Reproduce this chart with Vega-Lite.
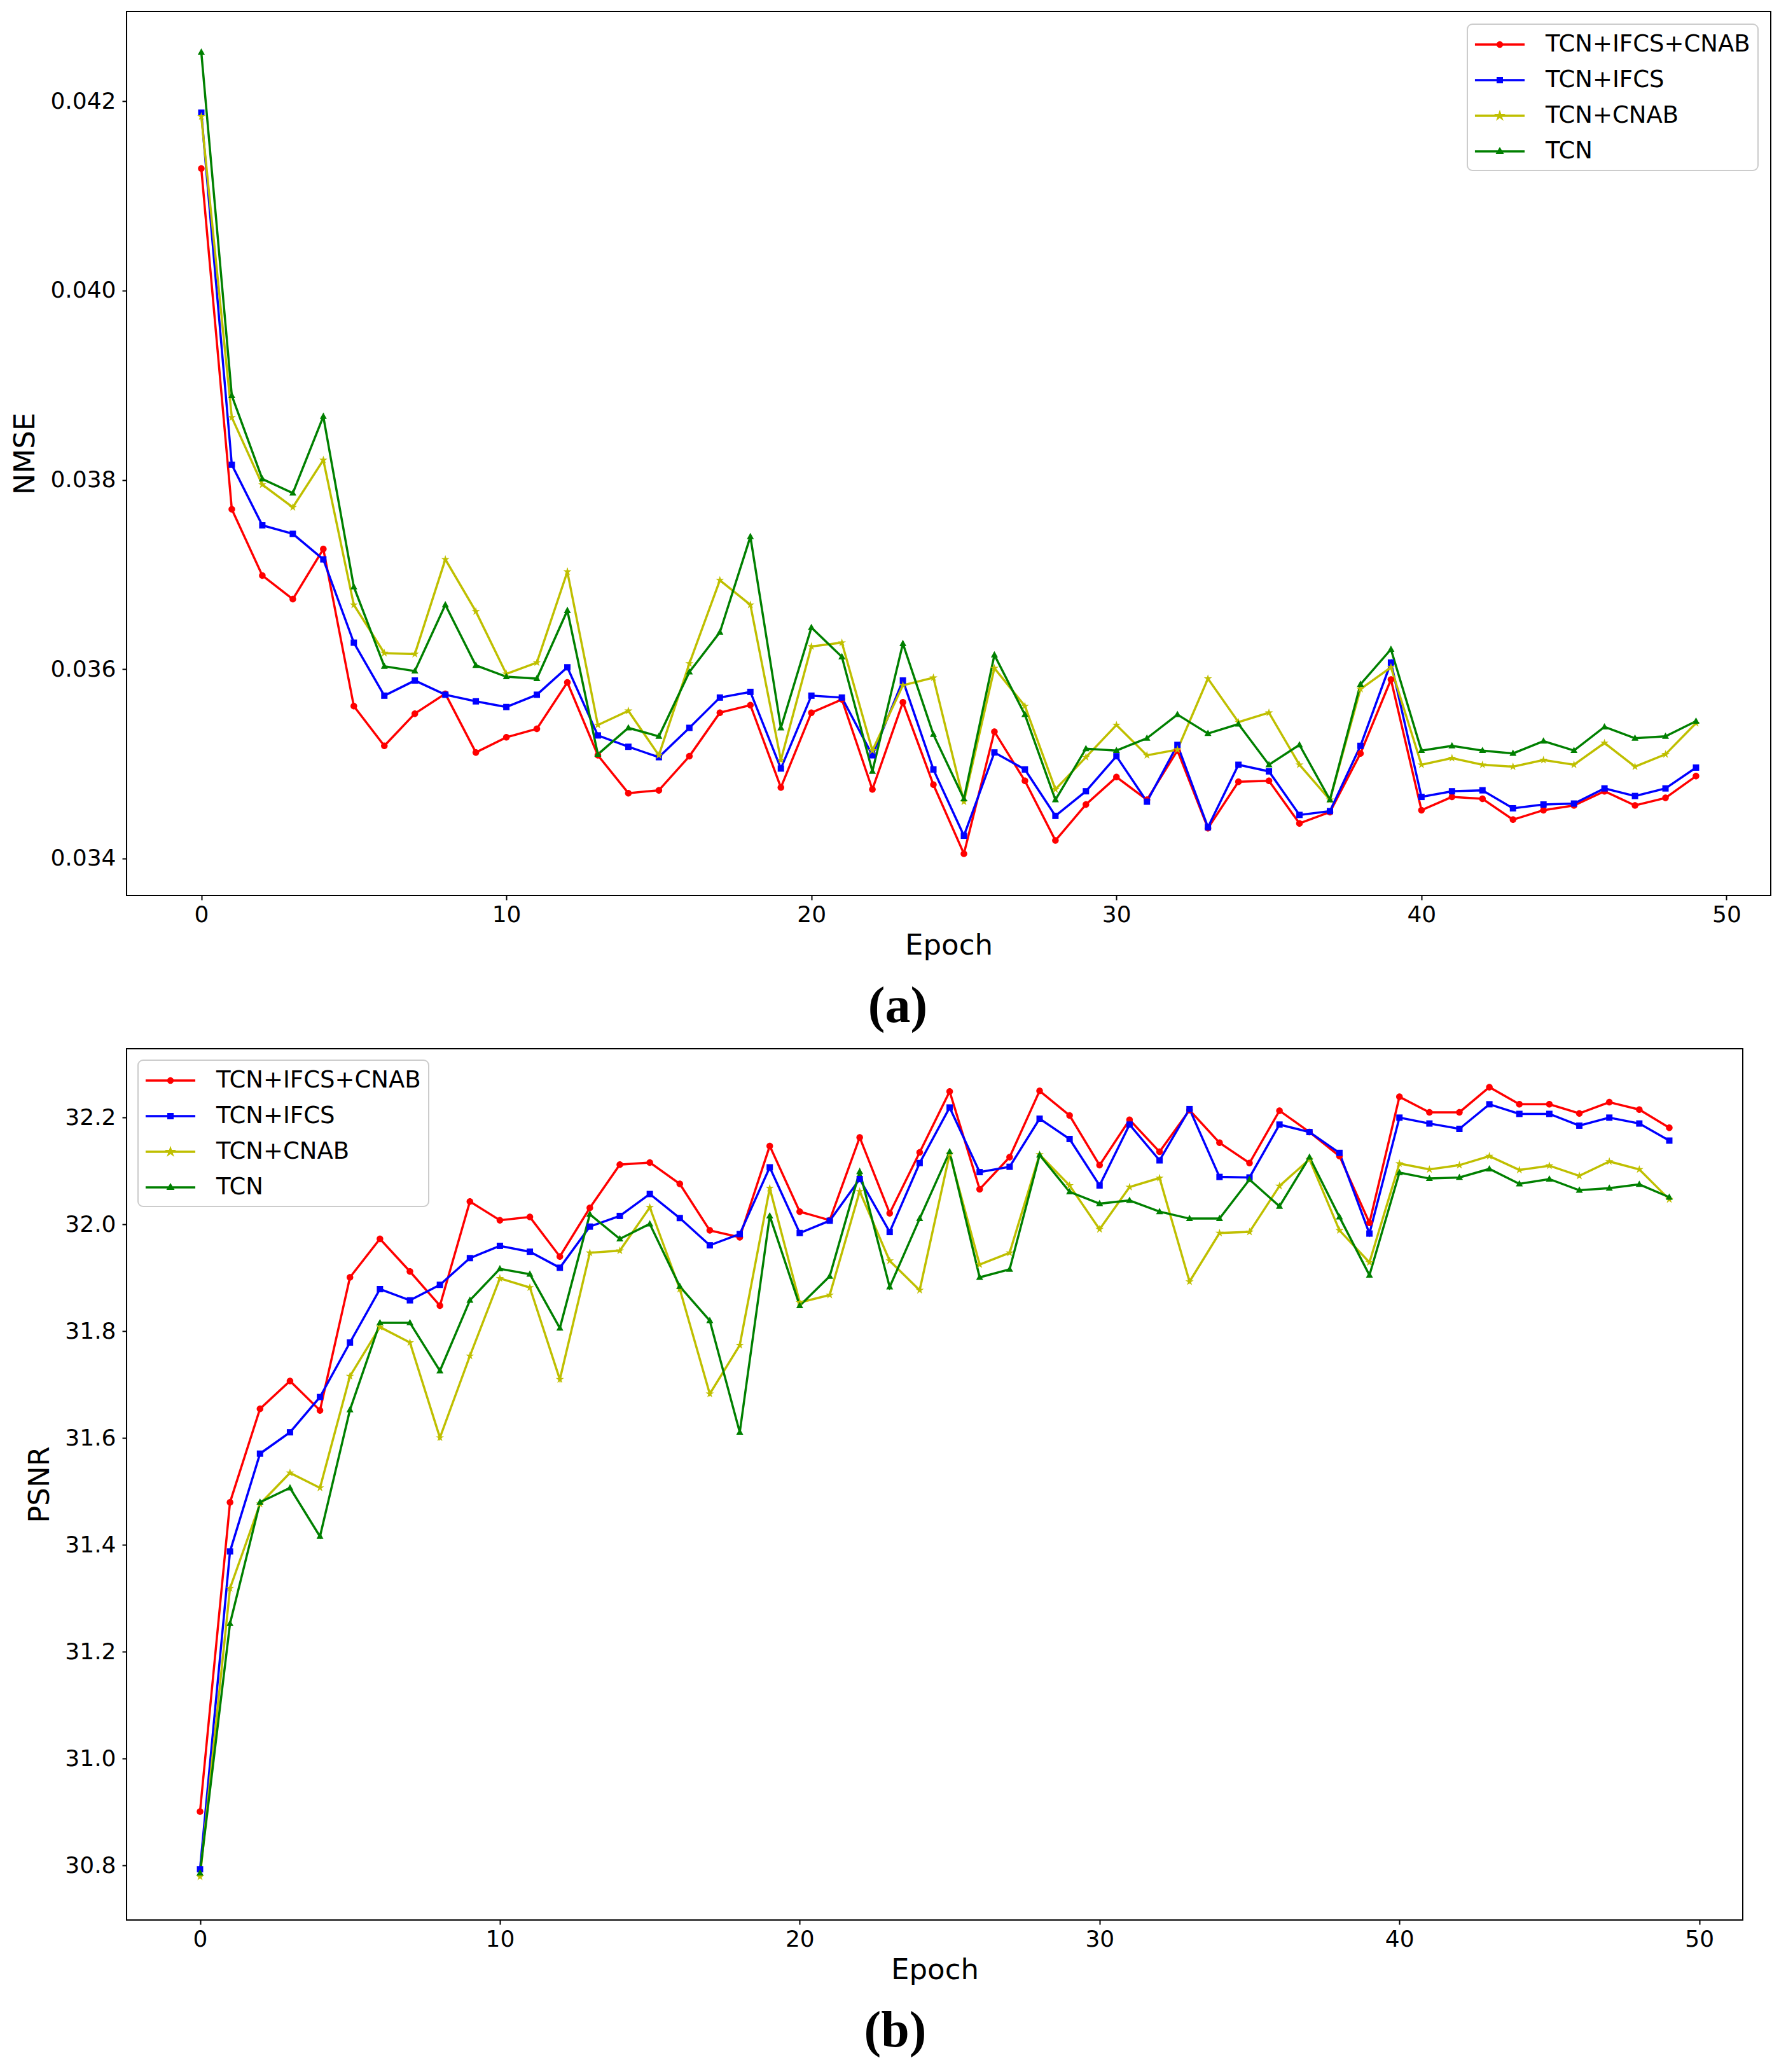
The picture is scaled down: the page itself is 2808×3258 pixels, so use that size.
{
  "$schema": "https://vega.github.io/schema/vega-lite/v6.json",
  "background": "white",
  "padding": {"left": 16, "top": 17, "right": 10, "bottom": 10},
  "spacing": 24,
  "config": {
    "view": {"stroke": "black", "strokeWidth": 2},
    "axis": {
      "domain": false,
      "grid": false,
      "tickColor": "black",
      "tickWidth": 2,
      "tickSize": 7,
      "labelFont": "DejaVu Sans",
      "labelFontSize": 36,
      "labelColor": "black",
      "titleFont": "DejaVu Sans",
      "titleFontSize": 45,
      "titleFontWeight": "normal",
      "titleColor": "black"
    },
    "legend": {
      "title": null,
      "labelFont": "DejaVu Sans",
      "labelFontSize": 37,
      "labelColor": "black",
      "labelLimit": 1000,
      "symbolSize": 1296,
      "symbolStrokeWidth": 3.5,
      "symbolStrokeColor": "#000000",
      "symbolOffset": 19,
      "labelOffset": 52,
      "rowPadding": 18,
      "padding": 12,
      "offset": 20,
      "strokeColor": "#cccccc",
      "strokeWidth": 2,
      "fillColor": "white",
      "cornerRadius": 8
    },
    "title": {
      "orient": "bottom",
      "anchor": "middle",
      "font": "Liberation Serif",
      "fontSize": 80,
      "fontWeight": "bold",
      "color": "black",
      "offset": 35
    }
  },
  "resolve": {"scale": {"color": "independent", "shape": "independent"}},
  "datasets": {
    "runs": [
      {"Epoch": 0, "Model": "TCN+IFCS+CNAB", "NMSE": 0.04129, "PSNR": 30.901},
      {"Epoch": 1, "Model": "TCN+IFCS+CNAB", "NMSE": 0.03769, "PSNR": 31.48},
      {"Epoch": 2, "Model": "TCN+IFCS+CNAB", "NMSE": 0.03699, "PSNR": 31.655},
      {"Epoch": 3, "Model": "TCN+IFCS+CNAB", "NMSE": 0.03674, "PSNR": 31.707},
      {"Epoch": 4, "Model": "TCN+IFCS+CNAB", "NMSE": 0.03727, "PSNR": 31.652},
      {"Epoch": 5, "Model": "TCN+IFCS+CNAB", "NMSE": 0.03561, "PSNR": 31.901},
      {"Epoch": 6, "Model": "TCN+IFCS+CNAB", "NMSE": 0.03519, "PSNR": 31.973},
      {"Epoch": 7, "Model": "TCN+IFCS+CNAB", "NMSE": 0.03553, "PSNR": 31.912},
      {"Epoch": 8, "Model": "TCN+IFCS+CNAB", "NMSE": 0.03574, "PSNR": 31.848},
      {"Epoch": 9, "Model": "TCN+IFCS+CNAB", "NMSE": 0.03512, "PSNR": 32.043},
      {"Epoch": 10, "Model": "TCN+IFCS+CNAB", "NMSE": 0.03528, "PSNR": 32.008},
      {"Epoch": 11, "Model": "TCN+IFCS+CNAB", "NMSE": 0.03537, "PSNR": 32.014},
      {"Epoch": 12, "Model": "TCN+IFCS+CNAB", "NMSE": 0.03586, "PSNR": 31.94},
      {"Epoch": 13, "Model": "TCN+IFCS+CNAB", "NMSE": 0.03509, "PSNR": 32.031},
      {"Epoch": 14, "Model": "TCN+IFCS+CNAB", "NMSE": 0.03469, "PSNR": 32.112},
      {"Epoch": 15, "Model": "TCN+IFCS+CNAB", "NMSE": 0.03472, "PSNR": 32.116},
      {"Epoch": 16, "Model": "TCN+IFCS+CNAB", "NMSE": 0.03508, "PSNR": 32.076},
      {"Epoch": 17, "Model": "TCN+IFCS+CNAB", "NMSE": 0.03554, "PSNR": 31.989},
      {"Epoch": 18, "Model": "TCN+IFCS+CNAB", "NMSE": 0.03562, "PSNR": 31.976},
      {"Epoch": 19, "Model": "TCN+IFCS+CNAB", "NMSE": 0.03475, "PSNR": 32.147},
      {"Epoch": 20, "Model": "TCN+IFCS+CNAB", "NMSE": 0.03554, "PSNR": 32.024},
      {"Epoch": 21, "Model": "TCN+IFCS+CNAB", "NMSE": 0.03568, "PSNR": 32.008},
      {"Epoch": 22, "Model": "TCN+IFCS+CNAB", "NMSE": 0.03473, "PSNR": 32.163},
      {"Epoch": 23, "Model": "TCN+IFCS+CNAB", "NMSE": 0.03565, "PSNR": 32.021},
      {"Epoch": 24, "Model": "TCN+IFCS+CNAB", "NMSE": 0.03478, "PSNR": 32.135},
      {"Epoch": 25, "Model": "TCN+IFCS+CNAB", "NMSE": 0.03405, "PSNR": 32.249},
      {"Epoch": 26, "Model": "TCN+IFCS+CNAB", "NMSE": 0.03534, "PSNR": 32.066},
      {"Epoch": 27, "Model": "TCN+IFCS+CNAB", "NMSE": 0.03482, "PSNR": 32.126},
      {"Epoch": 28, "Model": "TCN+IFCS+CNAB", "NMSE": 0.03419, "PSNR": 32.25},
      {"Epoch": 29, "Model": "TCN+IFCS+CNAB", "NMSE": 0.03457, "PSNR": 32.204},
      {"Epoch": 30, "Model": "TCN+IFCS+CNAB", "NMSE": 0.03486, "PSNR": 32.111},
      {"Epoch": 31, "Model": "TCN+IFCS+CNAB", "NMSE": 0.03462, "PSNR": 32.196},
      {"Epoch": 32, "Model": "TCN+IFCS+CNAB", "NMSE": 0.03514, "PSNR": 32.136},
      {"Epoch": 33, "Model": "TCN+IFCS+CNAB", "NMSE": 0.03432, "PSNR": 32.214},
      {"Epoch": 34, "Model": "TCN+IFCS+CNAB", "NMSE": 0.03481, "PSNR": 32.153},
      {"Epoch": 35, "Model": "TCN+IFCS+CNAB", "NMSE": 0.03482, "PSNR": 32.115},
      {"Epoch": 36, "Model": "TCN+IFCS+CNAB", "NMSE": 0.03437, "PSNR": 32.213},
      {"Epoch": 37, "Model": "TCN+IFCS+CNAB", "NMSE": 0.03449, "PSNR": 32.173},
      {"Epoch": 38, "Model": "TCN+IFCS+CNAB", "NMSE": 0.03511, "PSNR": 32.128},
      {"Epoch": 39, "Model": "TCN+IFCS+CNAB", "NMSE": 0.03589, "PSNR": 32.003},
      {"Epoch": 40, "Model": "TCN+IFCS+CNAB", "NMSE": 0.03451, "PSNR": 32.239},
      {"Epoch": 41, "Model": "TCN+IFCS+CNAB", "NMSE": 0.03465, "PSNR": 32.21},
      {"Epoch": 42, "Model": "TCN+IFCS+CNAB", "NMSE": 0.03463, "PSNR": 32.21},
      {"Epoch": 43, "Model": "TCN+IFCS+CNAB", "NMSE": 0.03441, "PSNR": 32.257},
      {"Epoch": 44, "Model": "TCN+IFCS+CNAB", "NMSE": 0.03451, "PSNR": 32.225},
      {"Epoch": 45, "Model": "TCN+IFCS+CNAB", "NMSE": 0.03456, "PSNR": 32.225},
      {"Epoch": 46, "Model": "TCN+IFCS+CNAB", "NMSE": 0.03471, "PSNR": 32.208},
      {"Epoch": 47, "Model": "TCN+IFCS+CNAB", "NMSE": 0.03456, "PSNR": 32.229},
      {"Epoch": 48, "Model": "TCN+IFCS+CNAB", "NMSE": 0.03464, "PSNR": 32.215},
      {"Epoch": 49, "Model": "TCN+IFCS+CNAB", "NMSE": 0.03487, "PSNR": 32.181},
      {"Epoch": 0, "Model": "TCN+IFCS", "NMSE": 0.04188, "PSNR": 30.793},
      {"Epoch": 1, "Model": "TCN+IFCS", "NMSE": 0.03816, "PSNR": 31.388},
      {"Epoch": 2, "Model": "TCN+IFCS", "NMSE": 0.03752, "PSNR": 31.571},
      {"Epoch": 3, "Model": "TCN+IFCS", "NMSE": 0.03743, "PSNR": 31.611},
      {"Epoch": 4, "Model": "TCN+IFCS", "NMSE": 0.03716, "PSNR": 31.677},
      {"Epoch": 5, "Model": "TCN+IFCS", "NMSE": 0.03628, "PSNR": 31.779},
      {"Epoch": 6, "Model": "TCN+IFCS", "NMSE": 0.03572, "PSNR": 31.879},
      {"Epoch": 7, "Model": "TCN+IFCS", "NMSE": 0.03588, "PSNR": 31.858},
      {"Epoch": 8, "Model": "TCN+IFCS", "NMSE": 0.03573, "PSNR": 31.887},
      {"Epoch": 9, "Model": "TCN+IFCS", "NMSE": 0.03566, "PSNR": 31.937},
      {"Epoch": 10, "Model": "TCN+IFCS", "NMSE": 0.0356, "PSNR": 31.96},
      {"Epoch": 11, "Model": "TCN+IFCS", "NMSE": 0.03573, "PSNR": 31.949},
      {"Epoch": 12, "Model": "TCN+IFCS", "NMSE": 0.03602, "PSNR": 31.919},
      {"Epoch": 13, "Model": "TCN+IFCS", "NMSE": 0.0353, "PSNR": 31.996},
      {"Epoch": 14, "Model": "TCN+IFCS", "NMSE": 0.03518, "PSNR": 32.016},
      {"Epoch": 15, "Model": "TCN+IFCS", "NMSE": 0.03507, "PSNR": 32.057},
      {"Epoch": 16, "Model": "TCN+IFCS", "NMSE": 0.03538, "PSNR": 32.012},
      {"Epoch": 17, "Model": "TCN+IFCS", "NMSE": 0.0357, "PSNR": 31.961},
      {"Epoch": 18, "Model": "TCN+IFCS", "NMSE": 0.03576, "PSNR": 31.982},
      {"Epoch": 19, "Model": "TCN+IFCS", "NMSE": 0.03495, "PSNR": 32.107},
      {"Epoch": 20, "Model": "TCN+IFCS", "NMSE": 0.03572, "PSNR": 31.984},
      {"Epoch": 21, "Model": "TCN+IFCS", "NMSE": 0.0357, "PSNR": 32.007},
      {"Epoch": 22, "Model": "TCN+IFCS", "NMSE": 0.03509, "PSNR": 32.085},
      {"Epoch": 23, "Model": "TCN+IFCS", "NMSE": 0.03588, "PSNR": 31.986},
      {"Epoch": 24, "Model": "TCN+IFCS", "NMSE": 0.03494, "PSNR": 32.115},
      {"Epoch": 25, "Model": "TCN+IFCS", "NMSE": 0.03424, "PSNR": 32.219},
      {"Epoch": 26, "Model": "TCN+IFCS", "NMSE": 0.03512, "PSNR": 32.098},
      {"Epoch": 27, "Model": "TCN+IFCS", "NMSE": 0.03494, "PSNR": 32.108},
      {"Epoch": 28, "Model": "TCN+IFCS", "NMSE": 0.03445, "PSNR": 32.198},
      {"Epoch": 29, "Model": "TCN+IFCS", "NMSE": 0.03471, "PSNR": 32.16},
      {"Epoch": 30, "Model": "TCN+IFCS", "NMSE": 0.03508, "PSNR": 32.073},
      {"Epoch": 31, "Model": "TCN+IFCS", "NMSE": 0.0346, "PSNR": 32.187},
      {"Epoch": 32, "Model": "TCN+IFCS", "NMSE": 0.0352, "PSNR": 32.12},
      {"Epoch": 33, "Model": "TCN+IFCS", "NMSE": 0.03433, "PSNR": 32.216},
      {"Epoch": 34, "Model": "TCN+IFCS", "NMSE": 0.03499, "PSNR": 32.089},
      {"Epoch": 35, "Model": "TCN+IFCS", "NMSE": 0.03492, "PSNR": 32.088},
      {"Epoch": 36, "Model": "TCN+IFCS", "NMSE": 0.03446, "PSNR": 32.187},
      {"Epoch": 37, "Model": "TCN+IFCS", "NMSE": 0.0345, "PSNR": 32.173},
      {"Epoch": 38, "Model": "TCN+IFCS", "NMSE": 0.03519, "PSNR": 32.134},
      {"Epoch": 39, "Model": "TCN+IFCS", "NMSE": 0.03607, "PSNR": 31.983},
      {"Epoch": 40, "Model": "TCN+IFCS", "NMSE": 0.03465, "PSNR": 32.2},
      {"Epoch": 41, "Model": "TCN+IFCS", "NMSE": 0.03471, "PSNR": 32.189},
      {"Epoch": 42, "Model": "TCN+IFCS", "NMSE": 0.03472, "PSNR": 32.179},
      {"Epoch": 43, "Model": "TCN+IFCS", "NMSE": 0.03453, "PSNR": 32.225},
      {"Epoch": 44, "Model": "TCN+IFCS", "NMSE": 0.03457, "PSNR": 32.207},
      {"Epoch": 45, "Model": "TCN+IFCS", "NMSE": 0.03458, "PSNR": 32.207},
      {"Epoch": 46, "Model": "TCN+IFCS", "NMSE": 0.03474, "PSNR": 32.185},
      {"Epoch": 47, "Model": "TCN+IFCS", "NMSE": 0.03466, "PSNR": 32.2},
      {"Epoch": 48, "Model": "TCN+IFCS", "NMSE": 0.03474, "PSNR": 32.189},
      {"Epoch": 49, "Model": "TCN+IFCS", "NMSE": 0.03496, "PSNR": 32.157},
      {"Epoch": 0, "Model": "TCN+CNAB", "NMSE": 0.04184, "PSNR": 30.779},
      {"Epoch": 1, "Model": "TCN+CNAB", "NMSE": 0.03866, "PSNR": 31.319},
      {"Epoch": 2, "Model": "TCN+CNAB", "NMSE": 0.03795, "PSNR": 31.477},
      {"Epoch": 3, "Model": "TCN+CNAB", "NMSE": 0.03771, "PSNR": 31.535},
      {"Epoch": 4, "Model": "TCN+CNAB", "NMSE": 0.03821, "PSNR": 31.507},
      {"Epoch": 5, "Model": "TCN+CNAB", "NMSE": 0.03668, "PSNR": 31.716},
      {"Epoch": 6, "Model": "TCN+CNAB", "NMSE": 0.03617, "PSNR": 31.808},
      {"Epoch": 7, "Model": "TCN+CNAB", "NMSE": 0.03616, "PSNR": 31.779},
      {"Epoch": 8, "Model": "TCN+CNAB", "NMSE": 0.03716, "PSNR": 31.601},
      {"Epoch": 9, "Model": "TCN+CNAB", "NMSE": 0.03661, "PSNR": 31.754},
      {"Epoch": 10, "Model": "TCN+CNAB", "NMSE": 0.03595, "PSNR": 31.899},
      {"Epoch": 11, "Model": "TCN+CNAB", "NMSE": 0.03607, "PSNR": 31.882},
      {"Epoch": 12, "Model": "TCN+CNAB", "NMSE": 0.03703, "PSNR": 31.71},
      {"Epoch": 13, "Model": "TCN+CNAB", "NMSE": 0.03541, "PSNR": 31.947},
      {"Epoch": 14, "Model": "TCN+CNAB", "NMSE": 0.03556, "PSNR": 31.951},
      {"Epoch": 15, "Model": "TCN+CNAB", "NMSE": 0.03509, "PSNR": 32.032},
      {"Epoch": 16, "Model": "TCN+CNAB", "NMSE": 0.03606, "PSNR": 31.879},
      {"Epoch": 17, "Model": "TCN+CNAB", "NMSE": 0.03694, "PSNR": 31.683},
      {"Epoch": 18, "Model": "TCN+CNAB", "NMSE": 0.03668, "PSNR": 31.774},
      {"Epoch": 19, "Model": "TCN+CNAB", "NMSE": 0.03504, "PSNR": 32.068},
      {"Epoch": 20, "Model": "TCN+CNAB", "NMSE": 0.03624, "PSNR": 31.854},
      {"Epoch": 21, "Model": "TCN+CNAB", "NMSE": 0.03628, "PSNR": 31.868},
      {"Epoch": 22, "Model": "TCN+CNAB", "NMSE": 0.03514, "PSNR": 32.062},
      {"Epoch": 23, "Model": "TCN+CNAB", "NMSE": 0.03583, "PSNR": 31.932},
      {"Epoch": 24, "Model": "TCN+CNAB", "NMSE": 0.03591, "PSNR": 31.877},
      {"Epoch": 25, "Model": "TCN+CNAB", "NMSE": 0.0346, "PSNR": 32.132},
      {"Epoch": 26, "Model": "TCN+CNAB", "NMSE": 0.03601, "PSNR": 31.925},
      {"Epoch": 27, "Model": "TCN+CNAB", "NMSE": 0.03561, "PSNR": 31.947},
      {"Epoch": 28, "Model": "TCN+CNAB", "NMSE": 0.03473, "PSNR": 32.131},
      {"Epoch": 29, "Model": "TCN+CNAB", "NMSE": 0.03507, "PSNR": 32.073},
      {"Epoch": 30, "Model": "TCN+CNAB", "NMSE": 0.03541, "PSNR": 31.991},
      {"Epoch": 31, "Model": "TCN+CNAB", "NMSE": 0.03509, "PSNR": 32.07},
      {"Epoch": 32, "Model": "TCN+CNAB", "NMSE": 0.03515, "PSNR": 32.087},
      {"Epoch": 33, "Model": "TCN+CNAB", "NMSE": 0.0359, "PSNR": 31.893},
      {"Epoch": 34, "Model": "TCN+CNAB", "NMSE": 0.03544, "PSNR": 31.984},
      {"Epoch": 35, "Model": "TCN+CNAB", "NMSE": 0.03554, "PSNR": 31.986},
      {"Epoch": 36, "Model": "TCN+CNAB", "NMSE": 0.03499, "PSNR": 32.072},
      {"Epoch": 37, "Model": "TCN+CNAB", "NMSE": 0.03462, "PSNR": 32.122},
      {"Epoch": 38, "Model": "TCN+CNAB", "NMSE": 0.03579, "PSNR": 31.989},
      {"Epoch": 39, "Model": "TCN+CNAB", "NMSE": 0.03602, "PSNR": 31.929},
      {"Epoch": 40, "Model": "TCN+CNAB", "NMSE": 0.03499, "PSNR": 32.114},
      {"Epoch": 41, "Model": "TCN+CNAB", "NMSE": 0.03506, "PSNR": 32.103},
      {"Epoch": 42, "Model": "TCN+CNAB", "NMSE": 0.03499, "PSNR": 32.111},
      {"Epoch": 43, "Model": "TCN+CNAB", "NMSE": 0.03497, "PSNR": 32.128},
      {"Epoch": 44, "Model": "TCN+CNAB", "NMSE": 0.03504, "PSNR": 32.102},
      {"Epoch": 45, "Model": "TCN+CNAB", "NMSE": 0.03499, "PSNR": 32.11},
      {"Epoch": 46, "Model": "TCN+CNAB", "NMSE": 0.03522, "PSNR": 32.091},
      {"Epoch": 47, "Model": "TCN+CNAB", "NMSE": 0.03497, "PSNR": 32.118},
      {"Epoch": 48, "Model": "TCN+CNAB", "NMSE": 0.0351, "PSNR": 32.103},
      {"Epoch": 49, "Model": "TCN+CNAB", "NMSE": 0.03543, "PSNR": 32.047},
      {"Epoch": 0, "Model": "TCN", "NMSE": 0.04252, "PSNR": 30.786},
      {"Epoch": 1, "Model": "TCN", "NMSE": 0.03889, "PSNR": 31.253},
      {"Epoch": 2, "Model": "TCN", "NMSE": 0.03801, "PSNR": 31.48},
      {"Epoch": 3, "Model": "TCN", "NMSE": 0.03786, "PSNR": 31.507},
      {"Epoch": 4, "Model": "TCN", "NMSE": 0.03867, "PSNR": 31.416},
      {"Epoch": 5, "Model": "TCN", "NMSE": 0.03687, "PSNR": 31.653},
      {"Epoch": 6, "Model": "TCN", "NMSE": 0.03603, "PSNR": 31.816},
      {"Epoch": 7, "Model": "TCN", "NMSE": 0.03598, "PSNR": 31.816},
      {"Epoch": 8, "Model": "TCN", "NMSE": 0.03668, "PSNR": 31.726},
      {"Epoch": 9, "Model": "TCN", "NMSE": 0.03604, "PSNR": 31.858},
      {"Epoch": 10, "Model": "TCN", "NMSE": 0.03592, "PSNR": 31.917},
      {"Epoch": 11, "Model": "TCN", "NMSE": 0.0359, "PSNR": 31.907},
      {"Epoch": 12, "Model": "TCN", "NMSE": 0.03662, "PSNR": 31.806},
      {"Epoch": 13, "Model": "TCN", "NMSE": 0.0351, "PSNR": 32.019},
      {"Epoch": 14, "Model": "TCN", "NMSE": 0.03538, "PSNR": 31.973},
      {"Epoch": 15, "Model": "TCN", "NMSE": 0.03529, "PSNR": 32.001},
      {"Epoch": 16, "Model": "TCN", "NMSE": 0.03597, "PSNR": 31.884},
      {"Epoch": 17, "Model": "TCN", "NMSE": 0.03639, "PSNR": 31.82},
      {"Epoch": 18, "Model": "TCN", "NMSE": 0.0374, "PSNR": 31.611},
      {"Epoch": 19, "Model": "TCN", "NMSE": 0.03538, "PSNR": 32.016},
      {"Epoch": 20, "Model": "TCN", "NMSE": 0.03644, "PSNR": 31.848},
      {"Epoch": 21, "Model": "TCN", "NMSE": 0.03613, "PSNR": 31.903},
      {"Epoch": 22, "Model": "TCN", "NMSE": 0.03492, "PSNR": 32.099},
      {"Epoch": 23, "Model": "TCN", "NMSE": 0.03627, "PSNR": 31.883},
      {"Epoch": 24, "Model": "TCN", "NMSE": 0.03531, "PSNR": 32.011},
      {"Epoch": 25, "Model": "TCN", "NMSE": 0.03463, "PSNR": 32.136},
      {"Epoch": 26, "Model": "TCN", "NMSE": 0.03615, "PSNR": 31.901},
      {"Epoch": 27, "Model": "TCN", "NMSE": 0.03552, "PSNR": 31.916},
      {"Epoch": 28, "Model": "TCN", "NMSE": 0.03462, "PSNR": 32.13},
      {"Epoch": 29, "Model": "TCN", "NMSE": 0.03516, "PSNR": 32.061},
      {"Epoch": 30, "Model": "TCN", "NMSE": 0.03514, "PSNR": 32.039},
      {"Epoch": 31, "Model": "TCN", "NMSE": 0.03527, "PSNR": 32.045},
      {"Epoch": 32, "Model": "TCN", "NMSE": 0.03552, "PSNR": 32.024},
      {"Epoch": 33, "Model": "TCN", "NMSE": 0.03532, "PSNR": 32.011},
      {"Epoch": 34, "Model": "TCN", "NMSE": 0.03542, "PSNR": 32.011},
      {"Epoch": 35, "Model": "TCN", "NMSE": 0.03499, "PSNR": 32.084},
      {"Epoch": 36, "Model": "TCN", "NMSE": 0.0352, "PSNR": 32.034},
      {"Epoch": 37, "Model": "TCN", "NMSE": 0.03462, "PSNR": 32.126},
      {"Epoch": 38, "Model": "TCN", "NMSE": 0.03584, "PSNR": 32.014},
      {"Epoch": 39, "Model": "TCN", "NMSE": 0.03621, "PSNR": 31.905},
      {"Epoch": 40, "Model": "TCN", "NMSE": 0.03514, "PSNR": 32.097},
      {"Epoch": 41, "Model": "TCN", "NMSE": 0.03519, "PSNR": 32.086},
      {"Epoch": 42, "Model": "TCN", "NMSE": 0.03514, "PSNR": 32.088},
      {"Epoch": 43, "Model": "TCN", "NMSE": 0.03511, "PSNR": 32.104},
      {"Epoch": 44, "Model": "TCN", "NMSE": 0.03524, "PSNR": 32.076},
      {"Epoch": 45, "Model": "TCN", "NMSE": 0.03514, "PSNR": 32.085},
      {"Epoch": 46, "Model": "TCN", "NMSE": 0.03539, "PSNR": 32.064},
      {"Epoch": 47, "Model": "TCN", "NMSE": 0.03527, "PSNR": 32.068},
      {"Epoch": 48, "Model": "TCN", "NMSE": 0.03529, "PSNR": 32.075},
      {"Epoch": 49, "Model": "TCN", "NMSE": 0.03545, "PSNR": 32.051}
    ]
  },
  "vconcat": [
    {
      "width": 2585,
      "height": 1390,
      "data": {"name": "runs"},
      "title": {"text": "(a)", "dx": -80},
      "encoding": {
        "x": {
          "field": "Epoch",
          "type": "quantitative",
          "scale": {"domain": [-2.45, 51.45], "nice": false, "zero": false},
          "axis": {"values": [0, 10, 20, 30, 40, 50], "title": "Epoch", "labelPadding": 6, "titlePadding": 8}
        },
        "y": {
          "field": "NMSE",
          "type": "quantitative",
          "scale": {"domain": [0.033609, 0.04295], "nice": false, "zero": false},
          "axis": {"values": [0.034, 0.036, 0.038, 0.04, 0.042], "format": ".3f", "title": "NMSE", "labelPadding": 10, "titlePadding": 16}
        }
      },
      "layer": [
        {"transform": [{"filter": "datum.Model === 'TCN+IFCS+CNAB'"}], "mark": {"type": "line", "strokeWidth": 3.5, "color": "#ff0000"}, "encoding": {}},
        {"transform": [{"filter": "datum.Model === 'TCN+IFCS'"}], "mark": {"type": "line", "strokeWidth": 3.5, "color": "#0000ff"}, "encoding": {}},
        {"transform": [{"filter": "datum.Model === 'TCN+CNAB'"}], "mark": {"type": "line", "strokeWidth": 3.5, "color": "#bfbf00"}, "encoding": {}},
        {"transform": [{"filter": "datum.Model === 'TCN'"}], "mark": {"type": "line", "strokeWidth": 3.5, "color": "#008000"}, "encoding": {}},
        {"transform": [{"filter": "datum.Model === 'TCN+IFCS+CNAB'"}], "mark": {"type": "point", "filled": true, "opacity": 1, "size": 110, "fill": "#ff0000", "shape": "M1,0A1,1 0 1,1 -1,0A1,1 0 1,1 1,0Z"}},
        {"transform": [{"filter": "datum.Model === 'TCN+IFCS'"}], "mark": {"type": "point", "filled": true, "opacity": 1, "size": 110, "fill": "#0000ff", "shape": "M-0.95,-0.95H0.95V0.95H-0.95Z"}},
        {"transform": [{"filter": "datum.Model === 'TCN+CNAB'"}], "mark": {"type": "point", "filled": true, "opacity": 1, "size": 110, "fill": "#bfbf00", "shape": "M0,-1.3L0.29,-0.4L1.24,-0.4L0.47,0.15L0.76,1.05L0,0.5L-0.76,1.05L-0.47,0.15L-1.24,-0.4L-0.29,-0.4Z"}},
        {"transform": [{"filter": "datum.Model === 'TCN'"}], "mark": {"type": "point", "filled": true, "opacity": 1, "size": 110, "fill": "#008000", "shape": "M0,-1.15L1.05,0.75H-1.05Z"}},
        {
          "transform": [{"filter": "datum.Epoch < 0"}],
          "mark": {"type": "point", "filled": false, "opacity": 1, "strokeWidth": 3.5},
          "encoding": {
            "color": {
              "field": "Model",
              "type": "nominal",
              "scale": {"domain": ["TCN+IFCS+CNAB", "TCN+IFCS", "TCN+CNAB", "TCN"], "range": ["#ff0000", "#0000ff", "#bfbf00", "#008000"]},
              "legend": {"orient": "top-right"}
            },
            "shape": {
              "field": "Model",
              "type": "nominal",
              "scale": {
                "domain": ["TCN+IFCS+CNAB", "TCN+IFCS", "TCN+CNAB", "TCN"],
                "range": [
                  "M-2.17,0H2.17M0.19,0A0.19,0.19 0 1,1 -0.19,0A0.19,0.19 0 1,1 0.19,0ZM0.08,0A0.08,0.08 0 1,1 -0.08,0A0.08,0.08 0 1,1 0.08,0Z",
                  "M-2.17,0H2.17M-0.18,-0.18H0.18V0.18H-0.18ZM-0.07,-0.07H0.07V0.07H-0.07Z",
                  "M-2.17,0H2.17M0,-0.22L0.05,-0.07L0.21,-0.07L0.08,0.03L0.13,0.18L0,0.08L-0.13,0.18L-0.08,0.03L-0.21,-0.07L-0.05,-0.07Z",
                  "M-2.17,0H2.17M0,-0.2L0.19,0.13H-0.19ZM0,-0.06L0.06,0.05H-0.06Z"
                ]
              },
              "legend": {"orient": "top-right"}
            }
          }
        }
      ]
    },
    {
      "width": 2541,
      "height": 1370,
      "data": {"name": "runs"},
      "title": {"text": "(b)", "dx": -62},
      "encoding": {
        "x": {
          "field": "Epoch",
          "type": "quantitative",
          "scale": {"domain": [-2.45, 51.45], "nice": false, "zero": false},
          "axis": {"values": [0, 10, 20, 30, 40, 50], "title": "Epoch", "labelPadding": 6, "titlePadding": 8}
        },
        "y": {
          "field": "PSNR",
          "type": "quantitative",
          "scale": {"domain": [30.698, 32.329], "nice": false, "zero": false},
          "axis": {"values": [30.8, 31.0, 31.2, 31.4, 31.6, 31.8, 32.0, 32.2], "format": ".1f", "title": "PSNR", "labelPadding": 10, "titlePadding": 16}
        }
      },
      "layer": [
        {"transform": [{"filter": "datum.Model === 'TCN+IFCS+CNAB'"}], "mark": {"type": "line", "strokeWidth": 3.5, "color": "#ff0000"}, "encoding": {}},
        {"transform": [{"filter": "datum.Model === 'TCN+IFCS'"}], "mark": {"type": "line", "strokeWidth": 3.5, "color": "#0000ff"}, "encoding": {}},
        {"transform": [{"filter": "datum.Model === 'TCN+CNAB'"}], "mark": {"type": "line", "strokeWidth": 3.5, "color": "#bfbf00"}, "encoding": {}},
        {"transform": [{"filter": "datum.Model === 'TCN'"}], "mark": {"type": "line", "strokeWidth": 3.5, "color": "#008000"}, "encoding": {}},
        {"transform": [{"filter": "datum.Model === 'TCN+IFCS+CNAB'"}], "mark": {"type": "point", "filled": true, "opacity": 1, "size": 110, "fill": "#ff0000", "shape": "M1,0A1,1 0 1,1 -1,0A1,1 0 1,1 1,0Z"}},
        {"transform": [{"filter": "datum.Model === 'TCN+IFCS'"}], "mark": {"type": "point", "filled": true, "opacity": 1, "size": 110, "fill": "#0000ff", "shape": "M-0.95,-0.95H0.95V0.95H-0.95Z"}},
        {"transform": [{"filter": "datum.Model === 'TCN+CNAB'"}], "mark": {"type": "point", "filled": true, "opacity": 1, "size": 110, "fill": "#bfbf00", "shape": "M0,-1.3L0.29,-0.4L1.24,-0.4L0.47,0.15L0.76,1.05L0,0.5L-0.76,1.05L-0.47,0.15L-1.24,-0.4L-0.29,-0.4Z"}},
        {"transform": [{"filter": "datum.Model === 'TCN'"}], "mark": {"type": "point", "filled": true, "opacity": 1, "size": 110, "fill": "#008000", "shape": "M0,-1.15L1.05,0.75H-1.05Z"}},
        {
          "transform": [{"filter": "datum.Epoch < 0"}],
          "mark": {"type": "point", "filled": false, "opacity": 1, "strokeWidth": 3.5},
          "encoding": {
            "color": {
              "field": "Model",
              "type": "nominal",
              "scale": {"domain": ["TCN+IFCS+CNAB", "TCN+IFCS", "TCN+CNAB", "TCN"], "range": ["#ff0000", "#0000ff", "#bfbf00", "#008000"]},
              "legend": {"orient": "top-left", "offset": 18}
            },
            "shape": {
              "field": "Model",
              "type": "nominal",
              "scale": {
                "domain": ["TCN+IFCS+CNAB", "TCN+IFCS", "TCN+CNAB", "TCN"],
                "range": [
                  "M-2.17,0H2.17M0.19,0A0.19,0.19 0 1,1 -0.19,0A0.19,0.19 0 1,1 0.19,0ZM0.08,0A0.08,0.08 0 1,1 -0.08,0A0.08,0.08 0 1,1 0.08,0Z",
                  "M-2.17,0H2.17M-0.18,-0.18H0.18V0.18H-0.18ZM-0.07,-0.07H0.07V0.07H-0.07Z",
                  "M-2.17,0H2.17M0,-0.22L0.05,-0.07L0.21,-0.07L0.08,0.03L0.13,0.18L0,0.08L-0.13,0.18L-0.08,0.03L-0.21,-0.07L-0.05,-0.07Z",
                  "M-2.17,0H2.17M0,-0.2L0.19,0.13H-0.19ZM0,-0.06L0.06,0.05H-0.06Z"
                ]
              },
              "legend": {"orient": "top-left", "offset": 18}
            }
          }
        }
      ]
    }
  ]
}
